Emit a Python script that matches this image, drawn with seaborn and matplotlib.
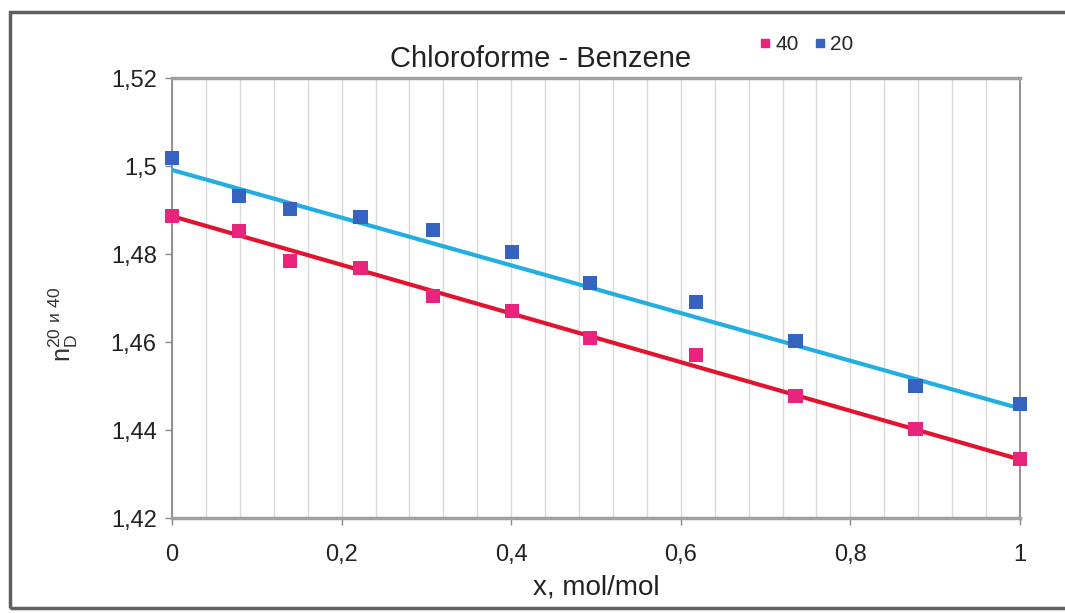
import numpy as np
import pandas as pd
import matplotlib
matplotlib.use("Agg")
import matplotlib.pyplot as plt
import seaborn as sns
from matplotlib.ticker import MultipleLocator, FuncFormatter
from matplotlib.patches import Rectangle
from matplotlib.lines import Line2D

# ---- data ----
x_frac = [0.0, 0.079, 0.139, 0.222, 0.308, 0.401, 0.493, 0.618, 0.735, 0.877, 1.0]
n_20 = [1.5018, 1.4932, 1.4902, 1.4884, 1.4855, 1.4805, 1.4734, 1.4691, 1.4602, 1.4500, 1.4459]
n_40 = [1.4886, 1.4852, 1.4784, 1.4768, 1.4705, 1.4670, 1.4609, 1.4570, 1.4477, 1.4402, 1.4334]
# linear trend lines (read at x = 0 and x = 1)
trend_x = [0.0, 1.0]
trend_20 = [1.4991, 1.4449]
trend_40 = [1.4886, 1.4333]
series_labels = ["40", "20"]
title = "Chloroforme - Benzene"
xlabel = "x, mol/mol"
ylabel = r"$\mathregular{n_D^{20\ и\ 40}}$"

sns.set_style("white")
plt.rcParams['font.family'] = ['Liberation Sans', 'DejaVu Sans']

fig = plt.figure(figsize=(10.65, 6.13), dpi=100)
ax = fig.add_axes([172/1065, 1 - 518/613, (1020 - 172)/1065, (518 - 78)/613])

pts = pd.DataFrame({
    "x": x_frac * 2,
    "n": n_40 + n_20,
    "T": ["40"] * len(x_frac) + ["20"] * len(x_frac),
})
trend = pd.DataFrame({
    "x": trend_x * 2,
    "n": trend_40 + trend_20,
    "T": ["40"] * 2 + ["20"] * 2,
})

mk_pal = {"20": "#3563bf", "40": "#e8247c"}
ln_pal = {"20": "#22aee0", "40": "#e2132e"}

sns.lineplot(data=trend, x="x", y="n", hue="T", palette=ln_pal, lw=3,
             legend=False, ax=ax, zorder=3)
sns.scatterplot(data=pts, x="x", y="n", hue="T", palette=mk_pal, marker="s",
                s=110, linewidth=0, legend=False, ax=ax, zorder=4, clip_on=False)

ax.set_xlim(0, 1)
ax.set_ylim(1.42, 1.52)
ax.xaxis.set_major_locator(MultipleLocator(0.2))
ax.xaxis.set_minor_locator(MultipleLocator(0.04))
ax.yaxis.set_major_locator(MultipleLocator(0.02))
fmt = FuncFormatter(lambda v, p: ("%g" % round(v, 4)).replace(".", ","))
ax.xaxis.set_major_formatter(fmt)
ax.yaxis.set_major_formatter(fmt)

ax.grid(False)
ax.grid(True, axis="x", which="both", color="#d9d9d9", lw=1, zorder=0)
ax.set_axisbelow(True)

for side in ["left", "right"]:
    ax.spines[side].set_color("#8a8a8a")
    ax.spines[side].set_linewidth(1.3)
for side in ["top", "bottom"]:
    ax.spines[side].set_color("#a0a0a0")
    ax.spines[side].set_linewidth(2.5)

ax.tick_params(axis="both", which="major", direction="out", length=5, width=1,
               color="#8a8a8a", labelsize=17, labelcolor="#222222")
ax.tick_params(axis="x", which="major", pad=14)
ax.tick_params(axis="y", which="major", pad=6)
ax.tick_params(axis="x", which="minor", length=0)
ax.tick_params(left=True, bottom=True)

ax.set_xlabel(xlabel, fontsize=20, color="#222222", labelpad=6)
ax.set_ylabel(ylabel, fontsize=18, color="#333333")
ax.yaxis.set_label_coords(-0.108, 0.44)
ax.set_title(title, fontsize=21, color="#222222", pad=8, x=0.435)

handles = [Line2D([], [], marker="s", ls="", color=mk_pal["40"], markersize=6),
           Line2D([], [], marker="s", ls="", color=mk_pal["20"], markersize=6)]
fig.legend(handles, series_labels, loc="center", bbox_to_anchor=(805/1065, 1 - 45/613),
           ncol=2, frameon=False, fontsize=15, handletextpad=0.1, columnspacing=0.6,
           handlelength=0.8)

fig.patches.append(Rectangle((10/1065, 5/613), 1.2, (608 - 12)/613,
                             transform=fig.transFigure, fill=False,
                             edgecolor="#606060", lw=2.5))

fig.savefig("out.png", dpi=100)
